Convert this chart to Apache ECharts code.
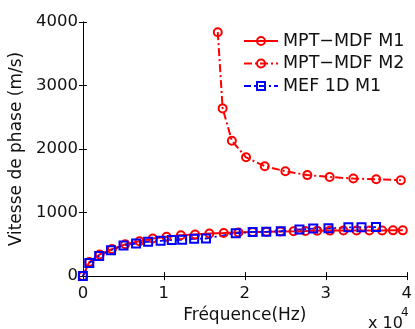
<!DOCTYPE html>
<html>
<head>
<meta charset="utf-8">
<script src="https://cdn.jsdelivr.net/npm/echarts@6/dist/echarts.min.js"></script>
<style>
html,body{margin:0;padding:0;background:#fff;}
#chart{width:415px;height:329px;}
</style>
</head>
<body>
<div id="chart"></div>
<script>
// Data (x in Hz, y in m/s)
var m1X = [0, 790, 2070, 3590, 5230, 6990, 8630, 10330, 12100, 13860, 15620, 17390, 19210, 20970, 22680, 24380, 26020, 27480, 28940, 30520, 32180, 33800, 35380, 36960, 38300, 39510];
var m1Y = [0, 220, 340, 425, 500, 548, 592, 618, 642, 656, 670, 678, 688, 694, 698, 704, 707, 710, 714, 716, 717, 718, 719, 719, 720, 720];
var m2X = [16660, 17260, 18400, 20150, 22460, 25010, 27720, 30480, 33400, 36230, 39270];
var m2Y = [3840, 2640, 2130, 1870, 1730, 1650, 1590, 1560, 1535, 1525, 1510];
var mefX = [0, 790, 2010, 3470, 5020, 6570, 8060, 9600, 10980, 12260, 13740, 15200, 18880, 20970, 22650, 24440, 26750, 28450, 30330, 32790, 34410, 36200];
var mefY = [0, 208, 317, 406, 483, 513, 541, 556, 568, 571, 588, 592, 675, 695, 697, 706, 735, 748, 752, 768, 770, 772];
var seriesNames = ['MPT\u2212MDF M1', 'MPT\u2212MDF M2', 'MEF 1D M1'];
var xTicks = ['0', '1', '2', '3', '4'];
var yTicks = ['0', '1000', '2000', '3000', '4000'];
var xName = 'Fréquence(Hz)';
var yName = 'Vitesse de phase (m/s)';

function pairs(xs, ys) { return xs.map(function (x, i) { return [x, ys[i]]; }); }

var FONT = 'DejaVu Sans';
var TXT = '#111';
var chart = echarts.init(document.getElementById('chart'), null, {renderer: 'canvas'});
var axisCommon = {
  axisLine: {show: true, lineStyle: {color: '#000', width: 1}},
  axisTick: {show: true, inside: true, length: 4, lineStyle: {color: '#000'}},
  splitLine: {show: false}
};
chart.setOption({
  animation: false,
  backgroundColor: '#fff',
  grid: {left: 82, top: 22, right: 4, bottom: 48, containLabel: false},
  xAxis: [
    Object.assign({
      type: 'value', min: 0, max: 40000, interval: 10000, position: 'bottom',
      name: xName, nameLocation: 'middle', nameGap: 25,
      nameTextStyle: {fontFamily: FONT, fontSize: 17, color: TXT},
      axisLabel: {fontFamily: FONT, fontSize: 16.5, color: TXT, margin: 9,
        formatter: function (v) { return xTicks[Math.round(v / 10000)]; }}
    }, axisCommon),
    Object.assign({
      type: 'value', min: 0, max: 40000, interval: 10000, position: 'top',
      axisLabel: {show: false}
    }, axisCommon)
  ],
  yAxis: [
    Object.assign({
      type: 'value', min: 0, max: 4000, interval: 1000, position: 'left',
      name: yName, nameLocation: 'middle', nameGap: 48,
      nameTextStyle: {fontFamily: FONT, fontSize: 17, color: TXT},
      axisLabel: {fontFamily: FONT, fontSize: 16.5, color: TXT, margin: 5,
        formatter: function (v) { return yTicks[Math.round(v / 1000)]; }}
    }, axisCommon),
    Object.assign({
      type: 'value', min: 0, max: 4000, interval: 1000, position: 'right',
      axisLabel: {show: false}
    }, axisCommon)
  ],
  legend: {
    orient: 'vertical', left: 238, top: 27,
    itemWidth: 34, itemHeight: 10, itemGap: 4.5,
    textStyle: {fontFamily: FONT, fontSize: 17.5, color: TXT, lineHeight: 18},
    data: seriesNames
  },
  series: [
    {
      name: seriesNames[0], type: 'line', data: pairs(m1X, m1Y),
      symbol: 'circle', symbolSize: 8,
      lineStyle: {color: '#ff0000', width: 2, type: 'solid'},
      itemStyle: {color: 'rgba(255,255,255,0)', borderColor: '#ff0000', borderWidth: 2}
    },
    {
      name: seriesNames[1], type: 'line', data: pairs(m2X, m2Y),
      symbol: 'circle', symbolSize: 8,
      lineStyle: {color: '#ff0000', width: 2, type: [8, 3, 2, 3]},
      itemStyle: {color: 'rgba(255,255,255,0)', borderColor: '#ff0000', borderWidth: 2}
    },
    {
      name: seriesNames[2], type: 'line', data: pairs(mefX, mefY),
      symbol: 'rect', symbolSize: 8,
      lineStyle: {color: '#0000ff', width: 1.8, type: [7, 3, 2, 3]},
      itemStyle: {color: 'rgba(255,255,255,0)', borderColor: '#0000ff', borderWidth: 2}
    }
  ],
  graphic: [
    {type: 'text', left: 368, top: 316, style: {text: 'x 10', fontFamily: FONT, fontSize: 16, fill: TXT}},
    {type: 'text', left: 401, top: 307, style: {text: '4', fontFamily: FONT, fontSize: 12, fill: TXT}}
  ]
});
</script>
</body>
</html>
